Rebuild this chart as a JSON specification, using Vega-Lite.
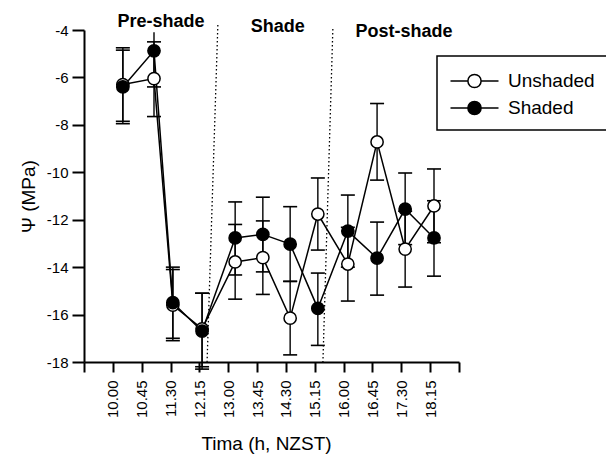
{
  "$schema": "https://vega.github.io/schema/vega-lite/v6.json",
  "autosize": {"type": "none"},
  "padding": {"left": 84, "top": 30, "right": 147, "bottom": 94},
  "width": 375,
  "height": 332,
  "background": "white",
  "config": {
    "view": {"stroke": null},
    "font": "Liberation Sans",
    "legend": {"strokeWidth": 1.5, "strokeColor": "black"},
    "axis": {
      "grid": false,
      "domainColor": "black",
      "domainWidth": 2,
      "tickColor": "black",
      "tickWidth": 2,
      "labelColor": "black",
      "titleColor": "black",
      "labelFont": "Liberation Sans",
      "titleFont": "Liberation Sans",
      "labelFontSize": 15,
      "titleFontSize": 19,
      "titleFontWeight": "normal"
    }
  },
  "datasets": {
    "pts": [
      {"t": 10.26, "series": "Unshaded", "v": -6.3, "lo": -7.85, "hi": -4.75},
      {"t": 11.07, "series": "Unshaded", "v": -6.05, "lo": -7.65, "hi": -4.5},
      {"t": 11.56, "series": "Unshaded", "v": -15.6, "lo": -17.1, "hi": -14.1},
      {"t": 12.32, "series": "Unshaded", "v": -16.6, "lo": -18.2, "hi": -15.1},
      {"t": 13.18, "series": "Unshaded", "v": -13.78, "lo": -15.35, "hi": -12.2},
      {"t": 13.9, "series": "Unshaded", "v": -13.6, "lo": -15.15, "hi": -12.05},
      {"t": 14.61, "series": "Unshaded", "v": -16.15, "lo": -17.7, "hi": -14.6},
      {"t": 15.33, "series": "Unshaded", "v": -11.76, "lo": -13.28, "hi": -10.24},
      {"t": 16.11, "series": "Unshaded", "v": -13.87, "lo": -15.43, "hi": -12.32},
      {"t": 16.87, "series": "Unshaded", "v": -8.72, "lo": -10.33, "hi": -7.1},
      {"t": 17.6, "series": "Unshaded", "v": -13.24, "lo": -14.84, "hi": -11.64},
      {"t": 18.35, "series": "Unshaded", "v": -11.42, "lo": -12.97, "hi": -9.86},
      {"t": 10.26, "series": "Shaded", "v": -6.4, "lo": -7.95, "hi": -4.85},
      {"t": 11.07, "series": "Shaded", "v": -4.88, "lo": -6.4, "hi": -4.1},
      {"t": 11.56, "series": "Shaded", "v": -15.5, "lo": -17.0, "hi": -14.0},
      {"t": 12.32, "series": "Shaded", "v": -16.7, "lo": -18.3, "hi": -15.1},
      {"t": 13.18, "series": "Shaded", "v": -12.77, "lo": -14.33, "hi": -11.25},
      {"t": 13.9, "series": "Shaded", "v": -12.62, "lo": -14.2, "hi": -11.05},
      {"t": 14.61, "series": "Shaded", "v": -13.03, "lo": -14.6, "hi": -11.45},
      {"t": 15.33, "series": "Shaded", "v": -15.74, "lo": -17.3, "hi": -14.25},
      {"t": 16.11, "series": "Shaded", "v": -12.48, "lo": -14.0, "hi": -10.96},
      {"t": 16.87, "series": "Shaded", "v": -13.62, "lo": -15.18, "hi": -12.1},
      {"t": 17.6, "series": "Shaded", "v": -11.55, "lo": -13.05, "hi": -10.03},
      {"t": 18.35, "series": "Shaded", "v": -12.77, "lo": -14.38, "hi": -11.2}
    ],
    "dividers": [
      {"t": 12.73, "t2": 12.45, "ytop": -3.79, "ybot": -18.0},
      {"t": 15.72, "t2": 15.46, "ytop": -3.96, "ybot": -18.1}
    ],
    "phases": [
      {"t": 11.25, "v": -3.66, "label": "Pre-shade"},
      {"t": 14.29, "v": -3.87, "label": "Shade"},
      {"t": 17.57, "v": -4.08, "label": "Post-shade"}
    ]
  },
  "encoding": {
    "x": {
      "field": "t",
      "type": "quantitative",
      "scale": {"domain": [9.25, 19.0], "nice": false, "zero": false},
      "axis": {
        "title": "Tima (h, NZST)",
        "values": [9.25, 10, 10.75, 11.5, 12.25, 13, 13.75, 14.5, 15.25, 16, 16.75, 17.5, 18.25, 19],
        "labelExpr": "datum.value < 9.9 || datum.value > 18.9 ? '' : floor(datum.value) + '.' + (round((datum.value - floor(datum.value)) * 60) < 10 ? '0' : '') + round((datum.value - floor(datum.value)) * 60)",
        "labelAngle": -90,
        "tickSize": 10,
        "labelPadding": 8,
        "titleX": 182,
        "titleY": 81,
        "titleBaseline": "middle",
        "titleAlign": "center"
      }
    },
    "y": {
      "field": "v",
      "type": "quantitative",
      "title": "Ψ (MPa)",
      "scale": {"domain": [-18, -4], "nice": false, "zero": false},
      "axis": {
        "values": [-18, -16, -14, -12, -10, -8, -6, -4],
        "labelExpr": "'' + datum.value",
        "tickSize": 12,
        "labelPadding": 4,
        "titleX": -56,
        "titleY": 166,
        "titleAngle": -90,
        "titleBaseline": "middle",
        "titleAlign": "center"
      }
    }
  },
  "layer": [
    {
      "data": {"name": "pts"},
      "mark": {"type": "line", "color": "black", "strokeWidth": 1.5},
      "encoding": {
        "detail": {"field": "series"},
        "order": {"field": "t"}
      }
    },
    {
      "data": {"name": "dividers"},
      "mark": {"type": "rule", "color": "black", "strokeWidth": 1.3, "strokeDash": [1.5, 2.5]},
      "encoding": {
        "x2": {"field": "t2"},
        "y": {"field": "ytop", "type": "quantitative", "title": "Ψ (MPa)"},
        "y2": {"field": "ybot"}
      }
    },
    {
      "data": {"name": "pts"},
      "mark": {"type": "rule", "color": "black", "strokeWidth": 1.4},
      "encoding": {
        "y": {"field": "lo", "type": "quantitative", "title": "Ψ (MPa)"},
        "y2": {"field": "hi"}
      }
    },
    {
      "data": {"name": "pts"},
      "mark": {"type": "tick", "orient": "horizontal", "color": "black", "size": 14, "thickness": 1.6, "opacity": 1},
      "encoding": {
        "y": {"field": "lo", "type": "quantitative", "title": "Ψ (MPa)"}
      }
    },
    {
      "data": {"name": "pts"},
      "transform": [{"filter": "datum.hi < -4.2"}],
      "mark": {"type": "tick", "orient": "horizontal", "color": "black", "size": 14, "thickness": 1.6, "opacity": 1},
      "encoding": {
        "y": {"field": "hi", "type": "quantitative", "title": "Ψ (MPa)"}
      }
    },
    {
      "data": {"name": "pts"},
      "mark": {"type": "point", "shape": "circle", "filled": true, "size": 150, "stroke": "black", "strokeWidth": 1.5, "opacity": 1},
      "encoding": {
        "fill": {
          "field": "series",
          "type": "nominal",
          "scale": {"domain": ["Unshaded", "Shaded"], "range": ["white", "black"]},
          "legend": {
            "orient": "none",
            "legendX": 353,
            "legendY": 26,
            "title": null,
            "symbolType": "M-2,0L-0.55,0M0.55,0L2,0M-0.55,0A0.55,0.55 0 1,0 0.55,0A0.55,0.55 0 1,0 -0.55,0Z",
            "symbolSize": 576,
            "symbolOffset": 12.5,
            "symbolStrokeColor": "black",
            "symbolStrokeWidth": 1.5,
            "symbolOpacity": 1,
            "labelFont": "Liberation Sans",
            "labelFontSize": 19,
            "labelColor": "black",
            "labelOffset": 20.5,
            "rowPadding": 4,
            "padding": 12,
            "strokeColor": "black"
          }
        }
      }
    },
    {
      "data": {"name": "phases"},
      "mark": {"type": "text", "font": "Liberation Sans", "fontWeight": "bold", "fontSize": 18, "color": "black", "align": "center", "baseline": "middle"},
      "encoding": {
        "text": {"field": "label"}
      }
    }
  ]
}
